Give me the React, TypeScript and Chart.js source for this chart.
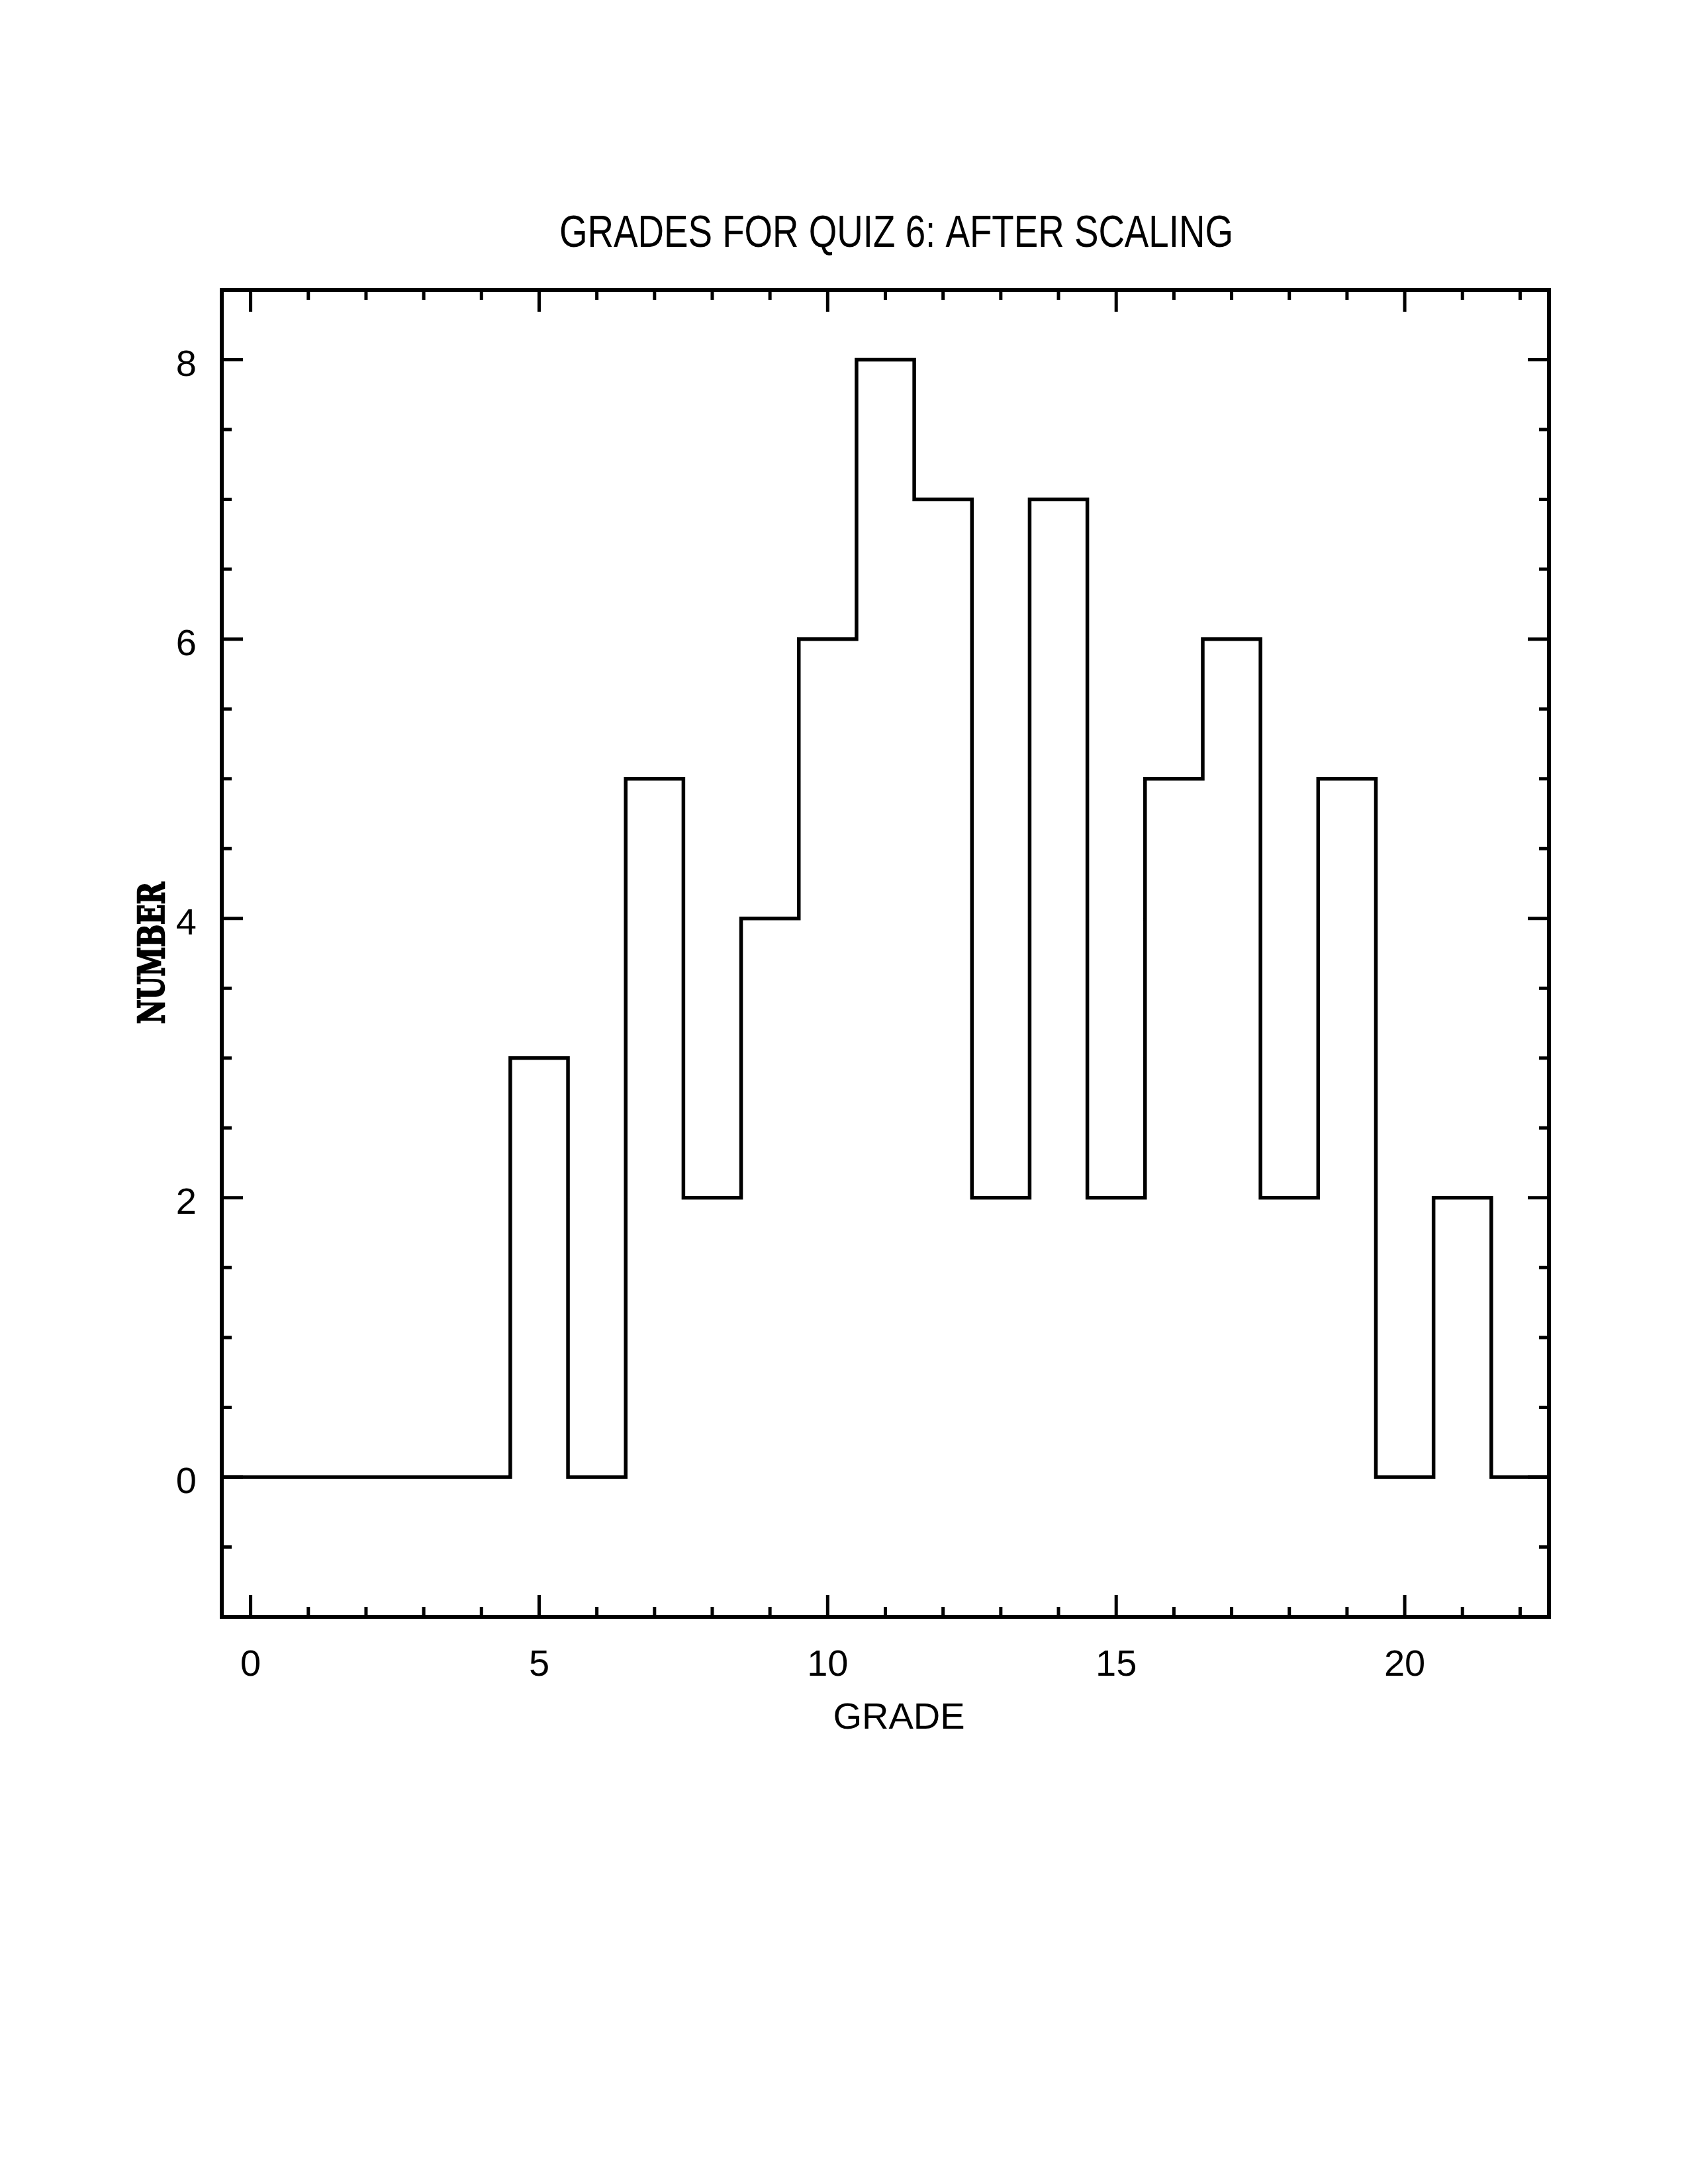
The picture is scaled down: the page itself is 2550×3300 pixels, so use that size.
import React, { useEffect, useRef } from "react";
import { Chart, registerables } from "chart.js";

Chart.register(...registerables);

// ---- data ----
const TITLE = "GRADES FOR QUIZ 6: AFTER SCALING";
const X_LABEL = "GRADE";
const Y_LABEL = "NUMBER";
const grades = [0, 1, 2, 3, 4, 5, 6, 7, 8, 9, 10, 11, 12, 13, 14, 15, 16, 17, 18, 19, 20, 21, 22];
const counts = [0, 0, 0, 0, 0, 3, 0, 5, 2, 4, 6, 8, 7, 2, 7, 2, 5, 6, 2, 5, 0, 2, 0];
const xTickLabels = [0, 5, 10, 15, 20];
const yTickLabels = [0, 2, 4, 6, 8];
const X_MIN = -0.5;
const X_MAX = 22.5;
const Y_MIN = -1;
const Y_MAX = 8.5;

const W = 2550;
const H = 3300;
const SANS = '"Liberation Sans", Arial, Helvetica, sans-serif';
const X_AXIS_H = 140;
const Y_AXIS_W = 140;

// histogram outline as bin-edge points (step-before)
const binWidth = 1;
const histPoints = grades.map((g, i) => ({ x: g - binWidth / 2, y: counts[i] }));
histPoints.push({ x: grades[grades.length - 1] + binWidth / 2, y: counts[counts.length - 1] });

const framePlugin = {
  id: "frameAndTexts",
  afterDatasetsDraw(chart: any) {
    const { ctx, chartArea: a, scales } = chart;
    const xs = scales.x;
    const ys = scales.y;
    ctx.save();
    ctx.strokeStyle = "#000";
    ctx.fillStyle = "#000";
    ctx.lineCap = "butt";

    // inward tick marks on all four sides
    ctx.lineWidth = 5;
    ctx.beginPath();
    for (let v = Math.ceil(X_MIN); v <= X_MAX; v += 1) {
      const len = xTickLabels.includes(v) ? 33 : 15;
      const px = xs.getPixelForValue(v);
      ctx.moveTo(px, a.bottom);
      ctx.lineTo(px, a.bottom - len);
      ctx.moveTo(px, a.top);
      ctx.lineTo(px, a.top + len);
    }
    for (let k = 1; Y_MIN + k * 0.5 < Y_MAX; k += 1) {
      const v = Y_MIN + k * 0.5;
      const len = yTickLabels.includes(v) ? 32 : 15;
      const py = ys.getPixelForValue(v);
      ctx.moveTo(a.left, py);
      ctx.lineTo(a.left + len, py);
      ctx.moveTo(a.right, py);
      ctx.lineTo(a.right - len, py);
    }
    ctx.stroke();

    // frame
    ctx.lineWidth = 6;
    ctx.lineJoin = "miter";
    ctx.strokeRect(a.left, a.top, a.right - a.left, a.bottom - a.top);

    // title (condensed)
    ctx.font = `69px ${SANS}`;
    ctx.textAlign = "center";
    ctx.textBaseline = "alphabetic";
    const tw = ctx.measureText(TITLE).width;
    ctx.save();
    ctx.translate(a.left + 1019, a.top - 65);
    ctx.scale(1018 / tw, 1);
    ctx.fillText(TITLE, 0, 0);
    ctx.restore();

    // x axis title
    ctx.font = `56px ${SANS}`;
    ctx.fillText(X_LABEL, a.left + 1023, a.bottom + 169);

    // y axis title (heavy bold serif, rotated)
    ctx.font = `bold 54px "DejaVu Serif", "Liberation Serif", serif`;
    const yw = ctx.measureText(Y_LABEL).width;
    ctx.save();
    ctx.translate(a.left - 87, a.top + 1002);
    ctx.rotate(-Math.PI / 2);
    ctx.scale(214 / yw, 1);
    ctx.lineWidth = 2.5;
    ctx.lineJoin = "miter";
    ctx.fillText(Y_LABEL, 0, 0);
    ctx.strokeText(Y_LABEL, 0, 0);
    ctx.restore();

    ctx.restore();
  },
};

export default function App() {
  const ref = useRef<HTMLCanvasElement | null>(null);

  useEffect(() => {
    if (!ref.current) return;
    const chart = new Chart(ref.current, {
      type: "line",
      data: {
        datasets: [
          {
            label: "NUMBER",
            data: histPoints,
            borderColor: "#000",
            borderWidth: 5.5,
            stepped: "before",
            pointRadius: 0,
            fill: false,
            borderCapStyle: "butt",
            borderJoinStyle: "miter",
          },
        ],
      },
      options: {
        responsive: false,
        devicePixelRatio: 1,
        animation: false,
        events: [],
        layout: {
          padding: { left: 335 - Y_AXIS_W, right: 210, top: 438, bottom: 857 - X_AXIS_H },
        },
        plugins: {
          legend: { display: false },
          tooltip: { enabled: false },
          title: { display: false },
        },
        scales: {
          x: {
            type: "linear",
            position: "bottom",
            min: X_MIN,
            max: X_MAX,
            afterBuildTicks: (scale: any) => {
              scale.ticks = xTickLabels.map((v) => ({ value: v }));
            },
            afterFit: (scale: any) => {
              scale.height = X_AXIS_H;
            },
            grid: { display: false },
            border: { display: false },
            ticks: {
              color: "#000",
              padding: 32,
              maxRotation: 0,
              autoSkip: false,
              font: { family: SANS, size: 56 },
              callback: (v: any) => String(v),
            },
          },
          y: {
            type: "linear",
            position: "left",
            min: Y_MIN,
            max: Y_MAX,
            afterBuildTicks: (scale: any) => {
              scale.ticks = yTickLabels.map((v) => ({ value: v }));
            },
            afterFit: (scale: any) => {
              scale.width = Y_AXIS_W;
            },
            grid: { display: false },
            border: { display: false },
            ticks: {
              color: "#000",
              padding: 30,
              labelOffset: 9,
              autoSkip: false,
              font: { family: SANS, size: 56 },
              callback: (v: any) => String(v),
            },
          },
        },
      },
      plugins: [framePlugin],
    });
    return () => chart.destroy();
  }, []);

  return (
    <div style={{ position: "absolute", left: 0, top: 0, width: W, height: H, background: "#fff" }}>
      <canvas ref={ref} width={W} height={H} style={{ display: "block", width: W, height: H }} />
    </div>
  );
}
